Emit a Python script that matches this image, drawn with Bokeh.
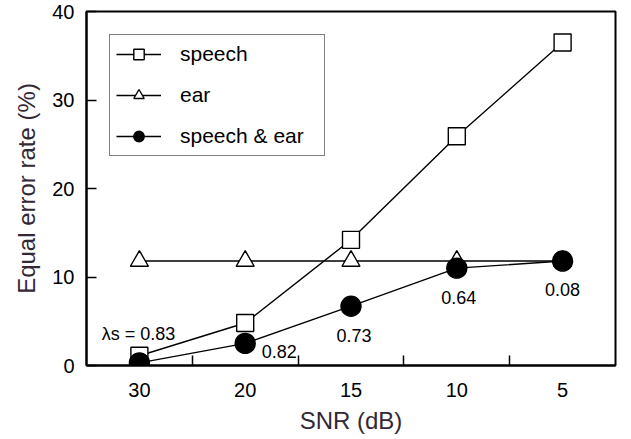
from bokeh.plotting import figure
from bokeh.models import Range1d, FixedTicker, Legend, LegendItem, ColumnDataSource
from bokeh.core.properties import value
from bokeh.embed import file_html
from bokeh.resources import INLINE

snr_labels = ["30", "20", "15", "10", "5"]
speech = [1.1, 4.8, 14.2, 25.9, 36.5]
ear = [11.8, 11.8, 11.8, 11.8, 11.8]
speech_ear = [0.3, 2.5, 6.7, 11.0, 11.8]
lambda_labels = ["λs = 0.83", "0.82", "0.73", "0.64", "0.08"]
yticks = [0, 10, 20, 30, 40]

FONT = "Liberation Sans"
LABEL_COLOR = "#332836"

xs = list(range(len(snr_labels)))

p = figure(width=623, height=437, output_backend="svg", toolbar_location=None,
           x_range=Range1d(-0.5, len(snr_labels) - 0.5), y_range=Range1d(0, 40),
           min_border_left=86, min_border_right=8, min_border_top=11, min_border_bottom=72)
p.grid.visible = False
p.background_fill_color = "white"
p.border_fill_color = "white"
p.outline_line_color = "black"
p.outline_line_width = 2

# x axis
p.xaxis.ticker = FixedTicker(ticks=xs, minor_ticks=[i + 0.5 for i in xs[:-1]])
p.xaxis.major_label_overrides = {i: s for i, s in zip(xs, snr_labels)}
p.xaxis.major_tick_in = 0
p.xaxis.major_tick_out = 0
p.xaxis.minor_tick_in = 10
p.xaxis.minor_tick_out = 0
p.xaxis.minor_tick_line_width = 1.5
p.xaxis.axis_label = "SNR (dB)"
p.xaxis.major_label_standoff = 17
p.xaxis.axis_label_standoff = 7

# y axis
p.yaxis.ticker = FixedTicker(ticks=yticks)
p.yaxis.major_tick_in = 10
p.yaxis.major_tick_out = 0
p.yaxis.minor_tick_line_color = None
p.yaxis.major_tick_line_width = 1.5
p.yaxis.axis_label = "Equal error rate (%)"
p.yaxis.major_label_standoff = 12
p.yaxis.axis_label_standoff = 9

for ax in (p.xaxis, p.yaxis):
    ax.axis_line_width = 2
    ax.axis_line_color = "black"
    ax.major_label_text_font = FONT
    ax.major_label_text_font_size = "20px"
    ax.major_label_text_color = "black"
    ax.axis_label_text_font = FONT
    ax.axis_label_text_font_size = "24px"
    ax.axis_label_text_font_style = "normal"
    ax.axis_label_text_color = LABEL_COLOR

lw = 1.4
l1 = p.line(xs, speech, line_color="black", line_width=lw)
m1 = p.scatter(xs, speech, marker="square", size=17, fill_color="white",
               line_color="black", line_width=lw)
l2 = p.line(xs, ear, line_color="black", line_width=lw)
m2 = p.scatter(xs, ear, marker="triangle", size=18, fill_color="white",
               line_color="black", line_width=lw)
l3 = p.line(xs, speech_ear, line_color="black", line_width=lw)
m3 = p.scatter(xs, speech_ear, marker="circle", size=20, fill_color="black",
               line_color="black", line_width=lw)

src = ColumnDataSource(dict(x=xs, y=speech_ear, t=lambda_labels,
                            dx=[-1, 34, 3, 2, 0], dy=[-29, 8, 29, 29, 28]))
p.text(x="x", y="y", text="t", x_offset="dx", y_offset="dy", source=src,
       text_font=value(FONT), text_font_size="18px", text_color="black",
       text_align="center", text_baseline="middle")

legend = Legend(items=[
    LegendItem(label="speech", renderers=[l1, m1]),
    LegendItem(label="ear", renderers=[l2, m2]),
    LegendItem(label="speech & ear", renderers=[l3, m3]),
], location="top_left")
legend.margin = 23
legend.padding = 6
legend.spacing = 15
legend.glyph_height = 26
legend.label_height = 26
legend.glyph_width = 45
legend.label_standoff = 19
legend.label_width = 138
legend.label_text_font = FONT
legend.label_text_font_size = "21px"
legend.label_text_color = "black"
legend.border_line_color = "black"
legend.border_line_width = 1.5
legend.background_fill_color = "white"
legend.background_fill_alpha = 1
p.add_layout(legend)

open("out.html", "w").write(file_html(p, INLINE))
